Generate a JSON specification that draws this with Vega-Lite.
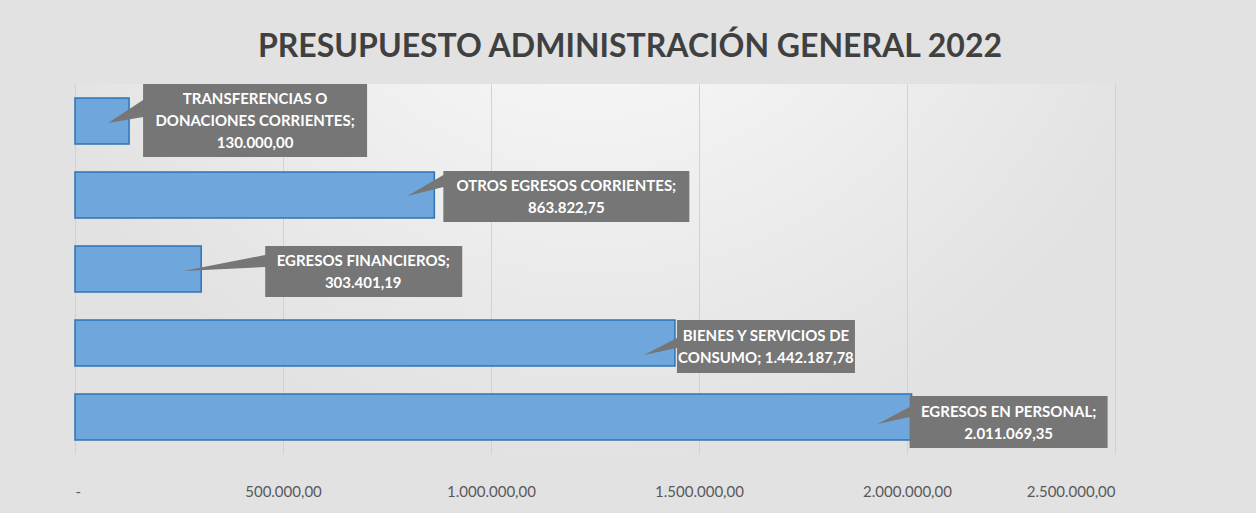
{
  "$schema": "https://vega.github.io/schema/vega-lite/v6.json",
  "width": 1040,
  "height": 370,
  "autosize": {"type": "none"},
  "padding": {"left": 75, "top": 84, "right": 141, "bottom": 59},
  "background": "#e2e2e2",
  "title": {
    "text": "PRESUPUESTO ADMINISTRACIÓN GENERAL 2022",
    "font": "Lato",
    "fontSize": 32,
    "fontWeight": "bold",
    "color": "#404040",
    "anchor": "middle",
    "dx": 35,
    "offset": 20
  },
  "config": {
    "locale": {"number": {"decimal": ",", "thousands": ".", "grouping": [3], "currency": ["", ""]}},
    "view": {
      "stroke": null,
      "fill": {
        "gradient": "radial",
        "x1": 0.5, "y1": 0.1, "x2": 0.5, "y2": 0.1, "r1": 0, "r2": 0.58,
        "stops": [{"offset": 0, "color": "#ffffff"}, {"offset": 1, "color": "#e2e2e2"}]
      }
    }
  },
  "data": {
    "values": [
      {"cat": "TRANSFERENCIAS O DONACIONES CORRIENTES", "value": 130000.00, "label": "TRANSFERENCIAS O\nDONACIONES CORRIENTES;\n130.000,00"},
      {"cat": "OTROS EGRESOS CORRIENTES", "value": 863822.75, "label": "OTROS EGRESOS CORRIENTES;\n863.822,75"},
      {"cat": "EGRESOS FINANCIEROS", "value": 303401.19, "label": "EGRESOS FINANCIEROS;\n303.401,19"},
      {"cat": "BIENES Y SERVICIOS DE CONSUMO", "value": 1442187.78, "label": "BIENES Y SERVICIOS DE\nCONSUMO;  1.442.187,78"},
      {"cat": "EGRESOS EN PERSONAL", "value": 2011069.35, "label": "EGRESOS EN PERSONAL;\n2.011.069,35"}
    ]
  },
  "encoding": {
    "y": {
      "field": "cat", "type": "nominal", "sort": null, "axis": null,
      "scale": {"paddingInner": 0.38, "paddingOuter": 0.19}
    },
    "x": {
      "field": "value", "type": "quantitative",
      "scale": {"domain": [0, 2500000], "nice": false},
      "axis": {
        "values": [0, 500000, 1000000, 1500000, 2000000, 2500000],
        "format": ",.2f",
        "labelExpr": "datum.value == 0 ? '-' : datum.label",
        "domain": false,
        "ticks": false,
        "labelPadding": 30,
        "labelFont": "Lato",
        "labelFontSize": 15,
        "labelColor": "#595959",
        "grid": true,
        "gridColor": "#d2d2d2",
        "title": null
      }
    }
  },
  "layer": [
    {"mark": {"type": "bar", "fill": "#6fa6dc", "stroke": "#2e74b5", "strokeWidth": 1.5}},
    {
      "mark": {"type": "point", "filled": true, "size": 40000, "color": "#767676", "opacity": 1, "strokeWidth": 0},
      "encoding": {
        "shape": {
          "field": "cat", "type": "nominal", "legend": null,
          "scale": {
            "domain": ["TRANSFERENCIAS O DONACIONES CORRIENTES", "OTROS EGRESOS CORRIENTES", "EGRESOS FINANCIEROS", "BIENES Y SERVICIOS DE CONSUMO", "EGRESOS EN PERSONAL"],
            "range": [
              "M0.14,-0.37H2.38V0.36H0.14V-0.04L-0.21,0.02L0.14,-0.21Z",
              "M0.09,-0.24H2.55V0.27H0.09V-0.08L-0.27,0.01L0.09,-0.2Z",
              "M0.64,-0.23H2.61V0.28H0.64V-0.02L-0.18,0.02L0.64,-0.14Z",
              "M0.02,-0.23H1.8V0.3H0.02V0.05L-0.31,0.12L0.02,-0.05Z",
              "M-0.02,-0.21H1.96V0.31H-0.02V0L-0.34,0.07L-0.02,-0.1Z"
            ]
          }
        }
      }
    },
    {
      "transform": [{"filter": "datum.cat == 'TRANSFERENCIAS O DONACIONES CORRIENTES'"}],
      "mark": {"type": "text", "dx": 126, "dy": -22, "align": "center", "baseline": "middle", "lineBreak": "\n", "lineHeight": 22, "font": "Lato", "fontSize": 15, "fontWeight": "bold", "color": "#ffffff"},
      "encoding": {"text": {"field": "label"}}
    },
    {
      "transform": [{"filter": "datum.cat == 'OTROS EGRESOS CORRIENTES'"}],
      "mark": {"type": "text", "dx": 132, "dy": -9, "align": "center", "baseline": "middle", "lineBreak": "\n", "lineHeight": 22, "font": "Lato", "fontSize": 15, "fontWeight": "bold", "color": "#ffffff"},
      "encoding": {"text": {"field": "label"}}
    },
    {
      "transform": [{"filter": "datum.cat == 'EGRESOS FINANCIEROS'"}],
      "mark": {"type": "text", "dx": 162, "dy": -8, "align": "center", "baseline": "middle", "lineBreak": "\n", "lineHeight": 22, "font": "Lato", "fontSize": 15, "fontWeight": "bold", "color": "#ffffff"},
      "encoding": {"text": {"field": "label"}}
    },
    {
      "transform": [{"filter": "datum.cat == 'BIENES Y SERVICIOS DE CONSUMO'"}],
      "mark": {"type": "text", "dx": 91, "dy": -7, "align": "center", "baseline": "middle", "lineBreak": "\n", "lineHeight": 22, "font": "Lato", "fontSize": 15, "fontWeight": "bold", "color": "#ffffff"},
      "encoding": {"text": {"field": "label"}}
    },
    {
      "transform": [{"filter": "datum.cat == 'EGRESOS EN PERSONAL'"}],
      "mark": {"type": "text", "dx": 97, "dy": -5, "align": "center", "baseline": "middle", "lineBreak": "\n", "lineHeight": 22, "font": "Lato", "fontSize": 15, "fontWeight": "bold", "color": "#ffffff"},
      "encoding": {"text": {"field": "label"}}
    }
  ]
}
